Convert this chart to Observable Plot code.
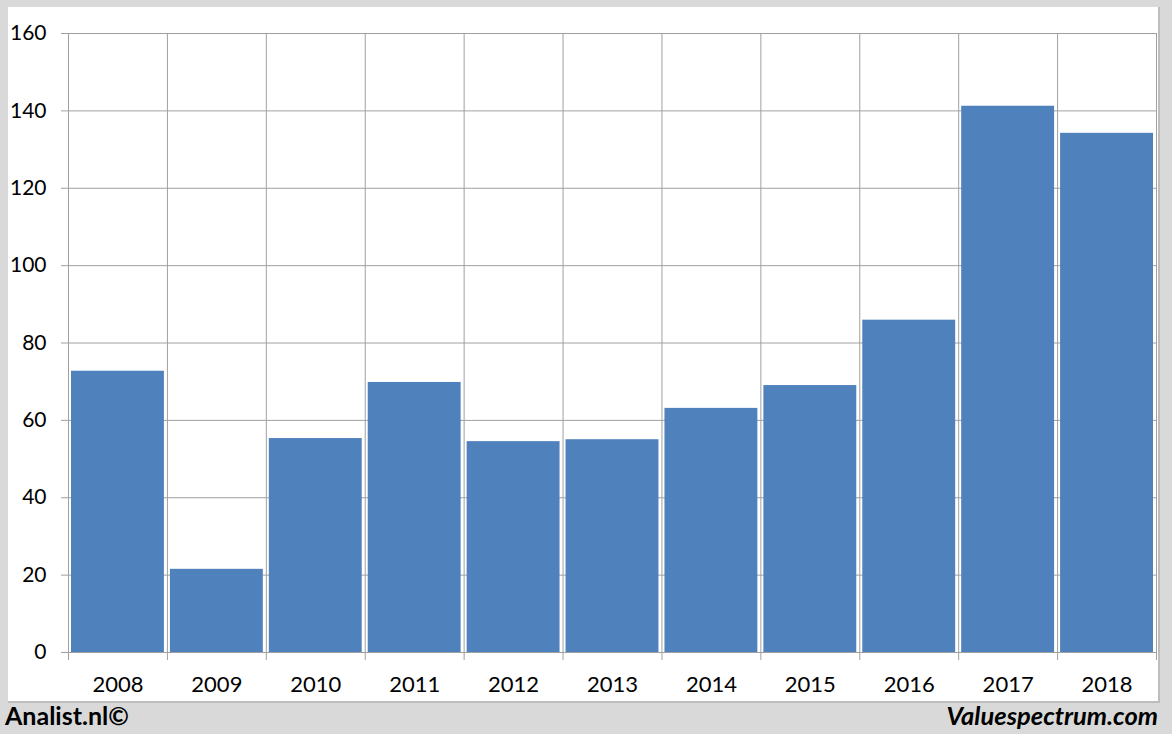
<!DOCTYPE html>
<html>
<head>
<meta charset="utf-8">
<script src="https://cdn.jsdelivr.net/npm/d3@7"></script>
<script src="https://cdn.jsdelivr.net/npm/@observablehq/plot@0.6"></script>
<style>
  html, body { margin: 0; padding: 0; }
  body { width: 1172px; height: 734px; background: #d9d9d9; position: relative; overflow: hidden; font-family: Lato, "Open Sans", sans-serif; }
  #panel { position: absolute; left: 8px; top: 7px; width: 1150px; height: 694px; background: #fff; border-right: 2px solid #bdbdbd; border-bottom: 2px solid #bdbdbd; }
  #chart { position: absolute; left: 0; top: 0; }
  #left { position: absolute; left: 5px; top: 700px; font-size: 25px; font-weight: bold; color: #000; line-height: 1.2; }
  #right { position: absolute; right: 14px; top: 700px; font-size: 25.5px; font-weight: bold; font-style: italic; color: #000; line-height: 1.2; }
</style>
</head>
<body>
<div id="panel"></div>
<div id="chart"></div>
<div id="left">Analist.nl©</div>
<div id="right">Valuespectrum.com</div>
<script>
const years = ["2008","2009","2010","2011","2012","2013","2014","2015","2016","2017","2018"];
const values = [72.7, 21.5, 55.3, 69.8, 54.5, 55.0, 63.1, 69.0, 85.9, 141.2, 134.2];
const yTicks = [0, 20, 40, 60, 80, 100, 120, 140, 160];

const data = years.map((y, i) => ({year: y, value: values[i]}));
const W = 1172, H = 734, mL = 68, mR = 16, mT = 33, mB = 82;
const bw = (W - mL - mR) / years.length;
const grid = "#a0a0a0";

const chart = Plot.plot({
  width: W, height: H,
  marginLeft: mL, marginRight: mR, marginTop: mT, marginBottom: mB,
  style: {background: "transparent", fontFamily: "Lato, 'Open Sans', sans-serif", fontSize: "22px", color: "#000"},
  x: {domain: years, padding: 0, round: false, label: null},
  y: {domain: [0, 160], label: null},
  marks: [
    Plot.ruleY(yTicks, {stroke: grid, strokeWidth: 1, insetLeft: -7}),
    Plot.ruleX(years, {x: d => d, y1: 160, y2: 0, dx: -bw / 2, stroke: grid, strokeWidth: 1, insetBottom: -8}),
    Plot.ruleX([years[years.length - 1]], {x: d => d, y1: 160, y2: 0, dx: bw / 2, stroke: grid, strokeWidth: 1, insetBottom: -8}),
    Plot.barY(data, {x: "year", y: "value", fill: "#4f81bd", insetLeft: 3, insetRight: 3}),
    Plot.axisY(yTicks, {tickSize: 0, tickPadding: 22, fontSize: 21, label: null}),
    Plot.axisX({tickSize: 0, tickPadding: 24, fontSize: 22, label: null})
  ]
});
document.getElementById("chart").appendChild(chart);
</script>
</body>
</html>
